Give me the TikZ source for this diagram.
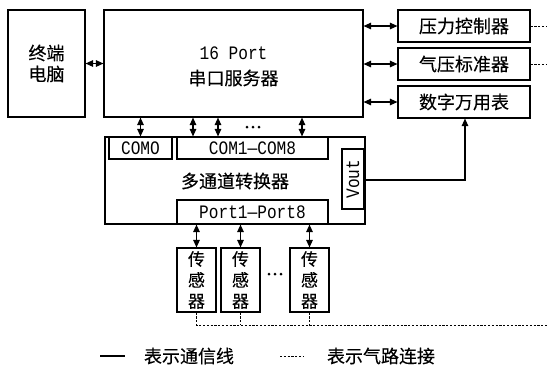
\documentclass[tikz,border=0pt]{standalone}
\usepackage{fontspec}
\setmainfont{Liberation Mono}[FakeStretch=0.85]
\newfontfamily\cjk{Noto Sans CJK SC}[FakeBold=0.3]
\usetikzlibrary{arrows.meta}
\tikzset{
  box/.style={draw, line width=1.1pt, inner sep=0pt, align=center},
  dbl/.style={line width=1.2pt, {Triangle[length=7.5pt,width=6.5pt]}-{Triangle[length=7.5pt,width=6.5pt]}},
  sgl/.style={line width=1.2pt, -{Triangle[length=7.5pt,width=6.5pt]}},
  air/.style={line width=1pt, dash pattern=on 2.2pt off 1.6pt},
  lat/.style={font=\fontsize{19}{21}\selectfont},
  han/.style={font=\cjk\fontsize{18}{21}\selectfont},
  sens/.style={font=\cjk\fontsize{17}{21}\selectfont},
  dotc/.style={fill, circle, inner sep=0pt, minimum size=3pt}
}
\begin{document}
\begin{tikzpicture}[x=1pt,y=-1pt]
\useasboundingbox (0,0) rectangle (547,365);
% main boxes
\node[box, han, minimum width=77pt, minimum height=107pt] (pc) at (46.5,63.5) {终端\\电脑};
\node[box, minimum width=259pt, minimum height=107pt] (srv) at (233.5,63.5) {};
\node[lat] (srvA) at (233.5,53) {16 Port};
\node[han] (srvB) at (233.5,78) {串口服务器};
\node[box, han, minimum width=132pt, minimum height=32pt] (pc1) at (464,26) {压力控制器};
\node[box, han, minimum width=132pt, minimum height=32pt] (pc2) at (464,64) {气压标准器};
\node[box, han, minimum width=132pt, minimum height=32pt] (dmm) at (464,102) {数字万用表};
% converter
\node[box, minimum width=260pt, minimum height=87pt] (conv) at (235,180.5) {};
\node[han] (convL) at (235,181) {多通道转换器};
\node[box, lat, minimum width=63pt, minimum height=22pt] (com0) at (140.5,148) {COMO};
\node[box, lat, minimum width=151pt, minimum height=22pt] (com18) at (252.5,148) {COM1—COM8};
\node[box, minimum width=22pt, minimum height=60pt] (vout) at (353,179) {};
\node[lat, rotate=90] (voutL) at (353,179) {Vout};
\node[box, lat, minimum width=151pt, minimum height=24pt] (port) at (252.5,212) {Port1—Port8};
% sensors
\node[box, sens, minimum width=39pt, minimum height=64pt] (s1) at (196.5,280) {传\\感\\器};
\node[box, sens, minimum width=39pt, minimum height=64pt] (s2) at (240.5,280) {传\\感\\器};
\node[box, sens, minimum width=39pt, minimum height=64pt] (s3) at (309.5,280) {传\\感\\器};
% dots
\node[dotc] (d1) at (247,127) {};
\node[dotc] (d2) at (253,127) {};
\node[dotc] (d3) at (259,127) {};
\node[dotc] (e1) at (269,274) {};
\node[dotc] (e2) at (275,274) {};
\node[dotc] (e3) at (281,274) {};
% communication connectors
\draw[dbl] (pc.east) -- (srv.west |- pc.east);
\draw[dbl] (srv.east |- pc1) -- (pc1.west);
\draw[dbl] (srv.east |- pc2) -- (pc2.west);
\draw[dbl] (srv.east |- dmm) -- (dmm.west);
\draw[dbl] (srv.south -| com0) -- (com0.north);
\draw[dbl] (srv.south -| 193,0) -- (com18.north -| 193,0);
\draw[dbl] (srv.south -| 218,0) -- (com18.north -| 218,0);
\draw[dbl] (srv.south -| 302,0) -- (com18.north -| 302,0);
\draw[dbl] (port.south -| s1) -- (s1.north);
\draw[dbl] (port.south -| s2) -- (s2.north);
\draw[dbl] (port.south -| s3) -- (s3.north);
\coordinate (vc) at (465,180);
\draw[sgl] (vout.east |- vc) -- (vc) -- (dmm.south -| vc);
% air connectors
\coordinate (a1) at (547,26);
\coordinate (a2) at (547,64);
\coordinate (a3) at (547,325);
\draw[air] (pc1.east) -- (a1);
\draw[air] (pc2.east) -- (a2);
\draw[air] (s1.south) -- (s1.south |- a3) -- (a3);
\draw[air] (s2.south) -- (s2.south |- a3);
\draw[air] (s3.south) -- (s3.south |- a3);
% legend
\coordinate (l1) at (100,356);
\coordinate (l2) at (125,356);
\coordinate (l3) at (280,356);
\coordinate (l4) at (303,356);
\draw[line width=1.1pt] (l1) -- (l2);
\node[han] (t1) at (189,356) {表示通信线};
\draw[air] (l3) -- (l4);
\node[han] (t2) at (381,356) {表示气路连接};
\end{tikzpicture}
\end{document}
